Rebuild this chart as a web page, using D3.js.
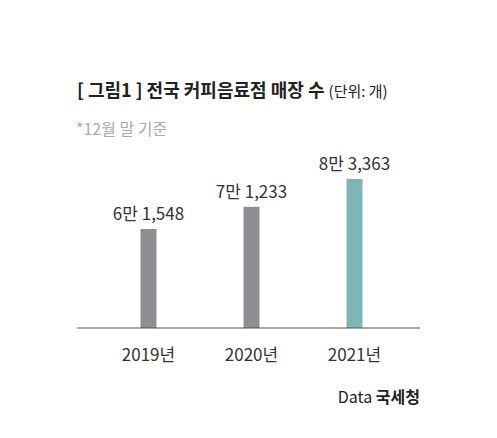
<!DOCTYPE html>
<html>
<head>
<meta charset="utf-8">
<script src="https://cdn.jsdelivr.net/npm/d3@7"></script>
<style>
    body { margin: 0; background: #fff; }
    text { font-family: "Noto Sans CJK KR", "Noto Sans", sans-serif; }
</style>
</head>
<body>
<div id="chart"></div>
<script>
// chart data
var years = ['2019년', '2020년', '2021년'];
var stores = [61548, 71233, 83363];
var valueLabels = ['6만 1,548', '7만 1,233', '8만 3,363'];
var barColors = ['#8e8f93', '#8e8f93', '#7db6b6'];

var width = 497,
    height = 438,
    baseline = 328;

var svg = d3.select('#chart')
    .append('svg')
    .attr('width', width)
    .attr('height', height);

var x = d3.scaleBand()
    .domain(years)
    .range([97, 406])
    .paddingInner(0.845)
    .paddingOuter(0.4225);

// axis does not start at zero in the original
var y = d3.scaleLinear()
    .domain([18354, 83363])
    .range([baseline, 179]);

var data = years.map(function(d, i) {
    return { year: d, value: stores[i], label: valueLabels[i], color: barColors[i] };
});

// title
var title = svg.append('text')
    .attr('x', 77)
    .attr('y', 97)
    .attr('fill', '#222');
title.append('tspan')
    .attr('font-size', 18)
    .attr('font-weight', 'bold')
    .text('[ 그림1 ] 전국 커피음료점 매장 수 ');
title.append('tspan')
    .attr('font-size', 15)
    .text('(단위: 개)');

svg.append('text')
    .attr('x', 76)
    .attr('y', 135)
    .attr('font-size', 16)
    .attr('fill', '#aaa')
    .text('*12월 말 기준');

svg.selectAll('rect.bar')
    .data(data)
    .enter()
    .append('rect')
    .attr('class', 'bar')
    .attr('x', function(d) { return x(d.year); })
    .attr('width', x.bandwidth())
    .attr('y', function(d) { return y(d.value); })
    .attr('height', function(d) { return baseline - y(d.value); })
    .attr('fill', function(d) { return d.color; });

svg.selectAll('text.value')
    .data(data)
    .enter()
    .append('text')
    .attr('class', 'value')
    .attr('x', function(d) { return x(d.year) + x.bandwidth() / 2; })
    .attr('y', function(d) { return y(d.value) - 9; })
    .attr('text-anchor', 'middle')
    .attr('font-size', 17)
    .attr('fill', '#333')
    .text(function(d) { return d.label; });

// baseline
svg.append('line')
    .attr('x1', 77).attr('x2', 420)
    .attr('y1', baseline).attr('y2', baseline)
    .attr('stroke', '#555')
    .attr('stroke-width', 1.2);

svg.selectAll('text.year')
    .data(data)
    .enter()
    .append('text')
    .attr('class', 'year')
    .attr('x', function(d) { return x(d.year) + x.bandwidth() / 2; })
    .attr('y', 361)
    .attr('text-anchor', 'middle')
    .attr('font-size', 17)
    .attr('fill', '#333')
    .text(function(d) { return d.year; });

var source = svg.append('text')
    .attr('x', 420)
    .attr('y', 403)
    .attr('text-anchor', 'end')
    .attr('font-size', 16)
    .attr('fill', '#222');
source.append('tspan').text('Data ');
source.append('tspan').attr('font-weight', 'bold').text('국세청');
</script>
</body>
</html>
